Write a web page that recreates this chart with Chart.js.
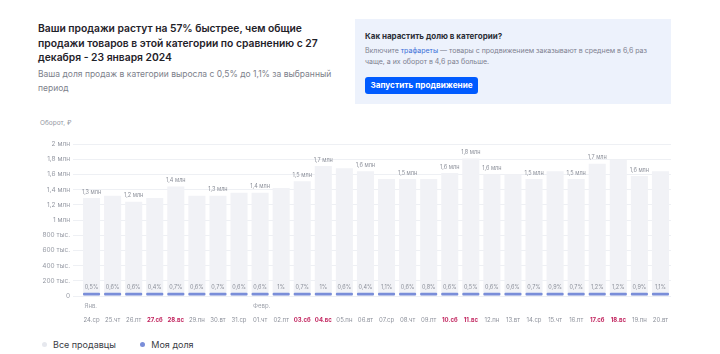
<!DOCTYPE html>
<html>
<head>
<meta charset="utf-8">
<script src="https://cdn.jsdelivr.net/npm/chart.js"></script>
<style>
    body { margin: 0; width: 720px; height: 354px; overflow: hidden; background: #fff; font-family: Inter, "Noto Sans", sans-serif; position: relative; }
    .title { position: absolute; left: 38px; top: 21px; font-size: 10.3px; font-weight: 600; line-height: 14.5px; color: #1f2229; }
    .subtitle { position: absolute; left: 38px; top: 67px; font-size: 8.5px; line-height: 14px; color: #7d818b; }
    .promo { position: absolute; left: 355px; top: 19px; width: 316px; height: 85px; background: #edf2fc; }
    .promo b { position: absolute; left: 10px; top: 12px; font-size: 8px; color: #2b2e36; }
    .promo p { position: absolute; left: 10px; top: 26px; margin: 0; font-size: 7px; line-height: 11.2px; color: #7d8190; }
    .promo p span { color: #3a6fd8; }
    .promo .btn { position: absolute; left: 10px; top: 58px; width: 113px; height: 17px; background: #005bff; border-radius: 3px; color: #fff; font-size: 8.2px; font-weight: 700; line-height: 17px; text-align: center; }
    .ytitle { position: absolute; left: 40px; top: 119px; font-size: 6.5px; color: #9599a3; }
    .chart-box { position: absolute; left: 30px; top: 130px; width: 680px; height: 200px; }
    .legend { position: absolute; left: 42px; top: 338px; font-size: 9px; color: #3a3d45; }
    .legend span { display: inline-block; vertical-align: middle; }
    .legend .dot { width: 5px; height: 5px; border-radius: 50%; margin-right: 6px; }
</style>
</head>
<body>
<div class="title">Ваши продажи растут на 57% быстрее, чем общие<br>продажи товаров в этой категории по сравнению с 27<br>декабря - 23 января 2024</div>
<div class="subtitle">Ваша доля продаж в категории выросла с 0,5% до 1,1% за выбранный<br>период</div>
<div class="promo">
    <b>Как нарастить долю в категории?</b>
    <p>Включите <span>трафареты</span> — товары с продвижением заказывают в среднем в 6,6 раз<br>чаще, а их оборот в 4,6 раз больше.</p>
    <div class="btn">Запустить продвижение</div>
</div>
<div class="ytitle">Оборот, ₽</div>
<div class="chart-box"><canvas id="salesChart" width="680" height="200"></canvas></div>
<div class="legend" id="legend"></div>
<script>
// подписи по оси X
const dates = ['24.ср', '25.чт', '26.пт', '27.сб', '28.вс', '29.пн', '30.вт', '31.ср',
    '01.чт', '02.пт', '03.сб', '04.вс', '05.пн', '06.вт', '07.ср', '08.чт', '09.пт',
    '10.сб', '11.вс', '12.пн', '13.вт', '14.ср', '15.чт', '16.пт', '17.сб', '18.вс', '19.пн', '20.вт'];
const months = ['Янв.', 'Февр.'];
const monthStart = [0, 8];

// оборот всех продавцов, млн ₽
const sales = [1.29, 1.32, 1.24, 1.29, 1.44, 1.32, 1.32, 1.36,
    1.36, 1.42, 1.51, 1.71, 1.68, 1.64, 1.54, 1.54, 1.54,
    1.62, 1.81, 1.60, 1.60, 1.54, 1.64, 1.54, 1.74, 1.79, 1.58, 1.64];
// моя доля, %
const share = [0.5, 0.6, 0.6, 0.4, 0.7, 0.6, 0.7, 0.6,
    0.6, 1, 0.7, 1, 0.6, 0.4, 1.1, 0.6, 0.8,
    0.6, 0.5, 0.6, 0.6, 0.7, 0.9, 0.7, 1.2, 1.2, 0.9, 1.1];
// столбцы с подписью оборота
const labeledBars = [0, 2, 4, 6, 8, 10, 11, 13, 15, 17, 18, 19, 21, 23, 24, 26];

const yTicks = { min: 0, max: 2, step: 0.2 };

const greyColor = '#f1f2f6';
const blueColor = '#7a8ed9';

const monthLabels = dates.map((d, i) => {
    const k = monthStart.indexOf(i);
    return k >= 0 ? months[k] : '';
});
const isWeekend = d => !!d && (d.endsWith('сб') || d.endsWith('вс'));
const fmt = v => String(+v.toFixed(1)).replace('.', ',');

document.getElementById('legend').innerHTML = `
    <span class="dot" style="background:#e6e8ee"></span><span>Все продавцы</span>
    <span class="dot" style="background:${blueColor};margin-left:22px"></span><span>Моя доля</span>`;

const barLabels = {
    id: 'barLabels',
    afterDatasetsDraw(chart) {
        const ctx = chart.ctx;
        const blue = chart.getDatasetMeta(0).data;
        const grey = chart.getDatasetMeta(1).data;
        ctx.save();
        ctx.textAlign = 'center';
        ctx.textBaseline = 'middle';
        ctx.fillStyle = '#8b8f99';
        ctx.font = '5.5px Inter';
        labeledBars.forEach(i => {
            ctx.fillText(fmt(sales[i]) + ' млн', grey[i].x, grey[i].y - 6);
        });
        blue.forEach((bar, i) => {
            ctx.fillText(fmt(share[i]) + '%', bar.x, bar.y - 5);
        });
        ctx.restore();
    }
};

Chart.defaults.font.family = 'Inter';

new Chart(document.getElementById('salesChart').getContext('2d'), {
    type: 'bar',
    data: {
        labels: dates,
        datasets: [{
            label: 'Моя доля',
            data: sales.map((v, i) => v * share[i] / 100),
            backgroundColor: blueColor,
            minBarLength: 3.3,
            borderRadius: 1,
            borderSkipped: false
        }, {
            label: 'Все продавцы',
            data: sales,
            backgroundColor: greyColor
        }]
    },
    options: {
        responsive: false,
        animation: false,
        datasets: {
            bar: { grouped: false, barPercentage: 0.81, categoryPercentage: 1 }
        },
        layout: { padding: { top: 14, right: 39, bottom: 3, left: 0 } },
        plugins: {
            legend: { display: false },
            tooltip: { enabled: false }
        },
        scales: {
            y: {
                min: yTicks.min,
                max: yTicks.max,
                afterFit: scale => { scale.width = 51; },
                border: { display: false },
                grid: { color: '#eef0f4', tickLength: 8 },
                ticks: {
                    stepSize: yTicks.step,
                    padding: 3,
                    color: '#9599a3',
                    font: { size: 6.5 },
                    callback: v => v === 0 ? '0' : v < 1 ? Math.round(v * 1000) + ' тыс.' : fmt(v) + ' млн'
                }
            },
            xm: {
                type: 'category',
                labels: monthLabels,
                position: 'bottom',
                weight: 0,
                offset: true,
                afterFit: scale => { scale.height = 15; },
                border: { display: false },
                grid: { display: false, drawTicks: false },
                ticks: {
                    autoSkip: false,
                    maxRotation: 0,
                    align: 'start',
                    labelOffset: -7,
                    padding: 7,
                    color: '#9ea2ab',
                    font: { size: 6 }
                }
            },
            x: {
                position: 'bottom',
                weight: 1,
                afterFit: scale => { scale.height = 16; },
                border: { display: false },
                grid: { display: false, drawTicks: false },
                ticks: {
                    autoSkip: false,
                    maxRotation: 0,
                    padding: 6,
                    color: ctx => isWeekend(dates[ctx.index]) ? '#c2255f' : '#8e929c',
                    font: ctx => ({ family: 'Inter', size: 6, weight: isWeekend(dates[ctx.index]) ? 'bold' : 'normal' })
                }
            }
        }
    },
    plugins: [barLabels]
});
</script>
</body>
</html>
